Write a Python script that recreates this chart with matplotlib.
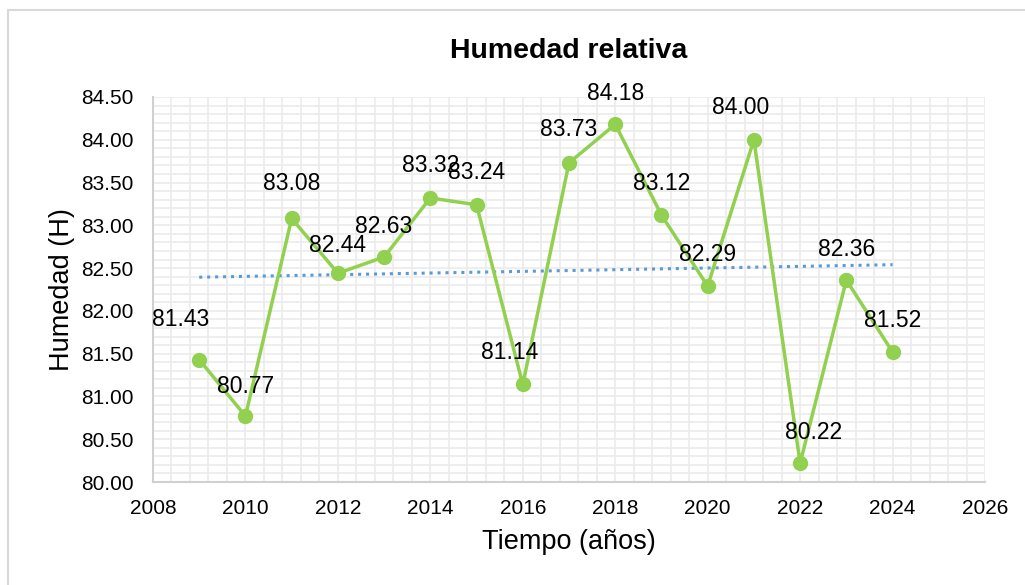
import matplotlib.pyplot as plt
import numpy as np
from matplotlib.patches import Rectangle
from matplotlib.ticker import MultipleLocator

plt.rcParams["font.family"] = ["Liberation Sans", "DejaVu Sans"]

years = [2009, 2010, 2011, 2012, 2013, 2014, 2015, 2016,
         2017, 2018, 2019, 2020, 2021, 2022, 2023, 2024]
humedad = [81.43, 80.77, 83.08, 82.44, 82.63, 83.32, 83.24, 81.14,
           83.73, 84.18, 83.12, 82.29, 84.00, 80.22, 82.36, 81.52]

# linea de tendencia lineal (como en Excel)
coef = np.polyfit(years, humedad, 1)
trend = np.polyval(coef, years)

fig = plt.figure(figsize=(10.25, 5.85), dpi=100)
ax = fig.add_axes([153 / 1025, 1 - 482 / 585, (985 - 153) / 1025, (482 - 97) / 585])

# marco del grafico
fig.patches.append(Rectangle((8 / 1025, -0.05), 1.1, 1 - 10 / 585 + 0.05,
                             transform=fig.transFigure, fill=False,
                             edgecolor="#d9d9d9", linewidth=1.5))

ax.plot(years, humedad, color="#92d050", linewidth=2.5, marker="o",
        markersize=10, zorder=3)
ax.plot(years, trend, color="#5b9bd5", linewidth=2.2, linestyle=(0, (1, 1.6)),
        zorder=2)

# etiquetas de datos
dx = [-19, 0, 0, 0, 0, 0, 0, -13, 0, 0, 0, 0, -13, 13, 0, 0]
dy = [40, 30, 35, 28, 30, 32, 32, 32, 33, 31, 32, 32, 32, 31, 31, 31]
for x, y, a, b in zip(years, humedad, dx, dy):
    ax.annotate(f"{y:.2f}", (x, y), xytext=(a, b), textcoords="offset pixels",
                ha="center", va="center", fontsize=16.5, zorder=4)

ax.set_xlim(2008, 2026)
ax.set_ylim(80, 84.5)
ax.xaxis.set_major_locator(MultipleLocator(2))
ax.xaxis.set_minor_locator(MultipleLocator(0.4))
ax.yaxis.set_major_locator(MultipleLocator(0.5))
ax.yaxis.set_minor_locator(MultipleLocator(0.1))
ax.yaxis.set_major_formatter(lambda v, p: f"{v:.2f}")

ax.grid(True, which="both", color="#ebebeb", linewidth=1.2)
ax.set_axisbelow(True)
for s in ["top", "right"]:
    ax.spines[s].set_visible(False)
for s in ["left", "bottom"]:
    ax.spines[s].set_color("#d0d0d0")
    ax.spines[s].set_linewidth(1.5)
ax.tick_params(which="both", length=0, labelsize=15)
ax.tick_params(axis="x", pad=12)
ax.tick_params(axis="y", pad=14)

ax.set_title("Humedad relativa", fontsize=20.5, fontweight="bold", pad=28)
ax.set_xlabel("Tiempo (años)", fontsize=19.5, labelpad=8)
ax.set_ylabel("Humedad (H)", fontsize=19.5, labelpad=4)

plt.savefig("out.png", dpi=100)
plt.close()
